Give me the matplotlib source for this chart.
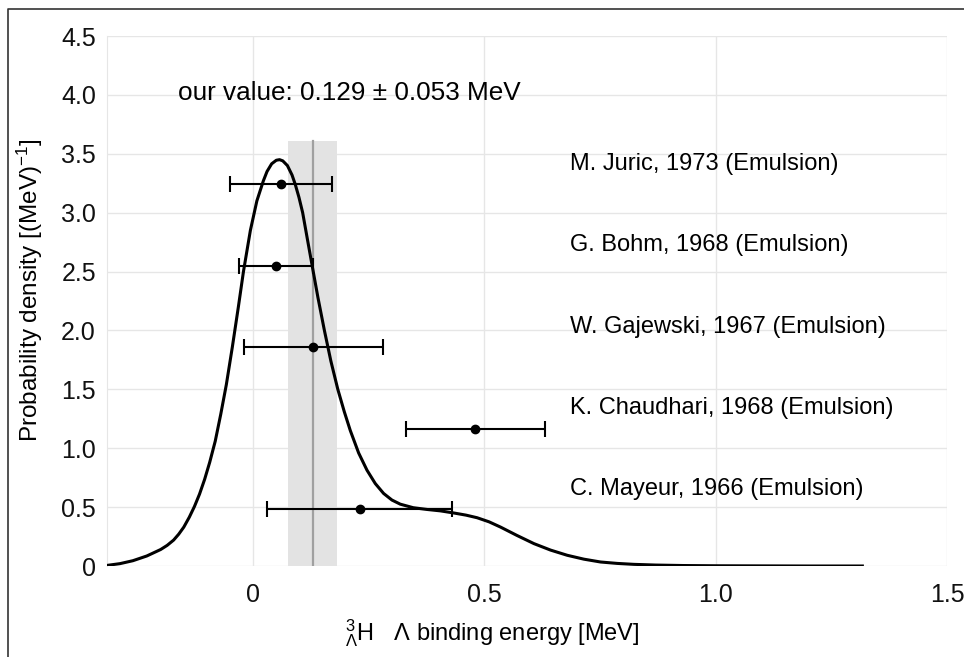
import numpy as np
import matplotlib
matplotlib.use("Agg")
import matplotlib.pyplot as plt
from matplotlib.lines import Line2D

plt.rcParams["font.family"] = ["Liberation Sans", "DejaVu Sans"]
plt.rcParams["mathtext.fontset"] = "custom"
plt.rcParams["mathtext.rm"] = "Liberation Sans"
plt.rcParams["mathtext.it"] = "Liberation Sans:italic"
plt.rcParams["mathtext.bf"] = "Liberation Sans:bold"

# probability density curve
curve_x = [-0.316, -0.288, -0.26, -0.23, -0.2, -0.186, -0.172, -0.161, -0.15,
           -0.138, -0.127, -0.116, -0.105, -0.094, -0.082, -0.07, -0.058,
           -0.045, -0.032, -0.021, -0.006, 0.008, 0.022, 0.03, 0.04, 0.05,
           0.057, 0.064, 0.074, 0.084, 0.091, 0.099, 0.107, 0.117, 0.128,
           0.14, 0.154, 0.168, 0.183, 0.197, 0.21, 0.228, 0.246, 0.264, 0.282,
           0.3, 0.318, 0.346, 0.376, 0.405, 0.434, 0.46, 0.484, 0.51, 0.535,
           0.57, 0.607, 0.643, 0.679, 0.715, 0.751, 0.787, 0.823, 0.87, 0.93,
           1.0, 1.1, 1.2, 1.317]
curve_y = [0.005, 0.02, 0.045, 0.085, 0.14, 0.175, 0.22, 0.27, 0.33,
           0.415, 0.505, 0.61, 0.735, 0.88, 1.06, 1.29, 1.54,
           1.86, 2.2, 2.5, 2.85, 3.1, 3.27, 3.35, 3.415, 3.445,
           3.45, 3.44, 3.4, 3.32, 3.24, 3.13, 3.0, 2.78, 2.54,
           2.28, 2.0, 1.74, 1.5, 1.31, 1.15, 0.96, 0.814, 0.7, 0.616,
           0.56, 0.525, 0.495, 0.48, 0.468, 0.45, 0.432, 0.41, 0.375, 0.33,
           0.26, 0.19, 0.135, 0.091, 0.058, 0.034, 0.022, 0.014, 0.008, 0.004,
           0.002, 0.001, 0.0, 0.0]

# earlier measurements
labels = ["M. Juric, 1973 (Emulsion)", "G. Bohm, 1968 (Emulsion)",
          "W. Gajewski, 1967 (Emulsion)", "K. Chaudhari, 1968 (Emulsion)",
          "C. Mayeur, 1966 (Emulsion)"]
meas_x = [0.06, 0.05, 0.13, 0.48, 0.23]
meas_err = [0.11, 0.08, 0.15, 0.15, 0.20]
meas_y = [3.24, 2.55, 1.857, 1.165, 0.48]

our_value = 0.129
our_err = 0.053

fig = plt.figure(figsize=(9.64, 6.57), dpi=100)
ax = fig.add_axes([107 / 964, 1 - 566 / 657, 840 / 964, 530 / 657])

ax.fill_between([our_value - our_err, our_value + our_err], 0, 3.61,
                color="#e3e3e3", lw=0, zorder=1)
ax.plot([our_value, our_value], [0, 3.61], color="#a0a0a0", lw=1.6, zorder=2)

ax.plot(curve_x, curve_y, color="black", lw=2.2, zorder=4,
        solid_joinstyle="round")

ax.errorbar(meas_x, meas_y, xerr=meas_err, fmt="o", color="black",
            ms=6, lw=1.5, capsize=5.5, capthick=1.5, zorder=5)

for lab, yy in zip(labels, meas_y):
    ax.text(0.684, yy + 0.175, lab, fontsize=17, ha="left", va="center")

ax.text(-0.162, 4.02, "our value: 0.129 \u00b1 0.053 MeV", fontsize=18.8,
        ha="left", va="center")

ax.set_xlim(-0.316, 1.5)
ax.set_ylim(0, 4.5)
ax.set_xticks([0, 0.5, 1.0, 1.5])
ax.set_xticklabels(["0", "0.5", "1.0", "1.5"])
ax.set_yticks(np.arange(0, 4.51, 0.5))
ax.set_yticklabels(["0", "0.5", "1.0", "1.5", "2.0", "2.5", "3.0", "3.5",
                    "4.0", "4.5"])
ax.tick_params(length=0, labelsize=18, colors="#111111")
ax.tick_params(axis="y", pad=8)
ax.tick_params(axis="x", pad=12)
ax.grid(True, color="#e6e6e6", lw=1)
ax.set_axisbelow(True)
for s in ["top", "right", "bottom"]:
    ax.spines[s].set_visible(False)
ax.spines["left"].set_color("#e6e6e6")

fig.text(30 / 964, 1 - 290 / 657, "Probability density [(MeV)$^{-1}$]",
         rotation=90, fontsize=17.5, ha="center", va="center")
fig.text(492 / 964, 1 - 633 / 657,
         "$^{3}_{\\Lambda}$H   \u039b binding energy [MeV]",
         fontsize=17, ha="center", va="center")

# frame of the screenshot
fig.add_artist(Line2D([7.5 / 964, 7.5 / 964, 1.0], [0, 1 - 9 / 657, 1 - 9 / 657],
                      transform=fig.transFigure, color="#333333", lw=1.2))

fig.savefig("out.png", dpi=100)
